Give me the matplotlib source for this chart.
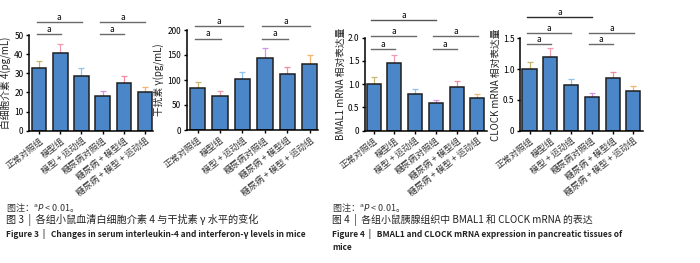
import numpy as np
import matplotlib
matplotlib.use("Agg")
from matplotlib import pyplot as plt

plt.rcParams['font.family'] = ['Noto Sans CJK SC', 'DejaVu Sans']
plt.rcParams['mathtext.fontset'] = 'dejavusans'

groups = ["正常对照组", "模型组", "模型 + 运动组", "糖尿病对照组", "糖尿病 + 模型组", "糖尿病 + 模型 + 运动组"]
err_colors = ["#c9b66e", "#f29bb0", "#8fc4ee", "#d493e6", "#f28aa2", "#f2b56a"]

il4 = [32.5, 40.5, 28.5, 18.0, 25.0, 20.0]
il4_err = [4.0, 5.0, 4.0, 3.0, 3.5, 2.8]
ifn = [85, 68, 102, 145, 112, 132]
ifn_err = [12, 10, 14, 19, 15, 18]
bmal1 = [1.0, 1.45, 0.80, 0.60, 0.95, 0.70]
bmal1_err = [0.15, 0.18, 0.09, 0.07, 0.12, 0.08]
clock = [1.0, 1.20, 0.75, 0.55, 0.85, 0.65]
clock_err = [0.12, 0.15, 0.09, 0.07, 0.10, 0.08]

W, H = 700, 263
fig = plt.figure(figsize=(7, 2.63), dpi=100)


def make_ax(left, right, top, bottom):
    return fig.add_axes([left / W, 1 - bottom / H, (right - left) / W, (bottom - top) / H])


def panel(ax, vals, errs, yticks, yticklabels, ylabel, xlim, brackets):
    x = np.arange(len(vals))
    ax.bar(x, vals, width=0.68, color="#4a86c8", edgecolor="#1e1e1e", linewidth=1.1, zorder=2)
    for i in range(len(vals)):
        ax.errorbar(x[i], vals[i], yerr=[[0], [errs[i]]], color=err_colors[i], capsize=2.5,
                    elinewidth=0.9, capthick=0.9, zorder=1)
    ax.set_ylim(0, yticks[-1])
    ax.set_xlim(*xlim)
    ax.set_yticks(yticks)
    ax.set_yticklabels(yticklabels)
    ax.set_xticks(x)
    ax.set_xticklabels(groups, rotation=38, ha="right", rotation_mode="anchor", fontsize=6.4, color="#333333")
    ax.tick_params(axis="y", labelsize=6, length=2.5, width=1, pad=1.5)
    ax.tick_params(axis="x", length=2.5, width=1, pad=1.5)
    for s in ["top", "right"]:
        ax.spines[s].set_visible(False)
    for s in ["left", "bottom"]:
        ax.spines[s].set_linewidth(1.1)
    ax.set_ylabel(ylabel, fontsize=7, labelpad=1.5, color="#222222")
    for a, b, yv, col in brackets:
        ax.plot([a - 0.12, b + 0.02], [yv, yv], color=col, lw=1.0, clip_on=False)
        ax.text((a + b) / 2 - 0.05, yv, "a", ha="center", va="bottom", fontsize=6, clip_on=False)


g = "#6a6a6a"
ax1 = make_ax(29, 153, 35, 130.7)
panel(ax1, il4, il4_err, [0, 10, 20, 30, 40, 50], ["0", "10", "20", "30", "40", "50"],
      "白细胞介素 4(pg/mL)", (-0.48, 5.38),
      [(0, 1, 50.5, g), (0, 2, 56.8, g), (3, 4, 50.5, g), (3, 5, 56.8, g)])

ax2 = make_ax(186.7, 318, 30, 130)
panel(ax2, ifn, ifn_err, [0, 50, 100, 150, 200], ["0", "50", "100", "150", "200"],
      "干扰素 γ(pg/mL)", (-0.49, 5.37),
      [(0, 1, 183, g), (0, 2, 209, g), (3, 4, 183, g), (3, 5, 209, g)])

ax3 = make_ax(365, 486.7, 37.7, 130.7)
panel(ax3, bmal1, bmal1_err, [0, 0.5, 1.0, 1.5, 2.0], ["0", "0.5", "1.0", "1.5", "2.0"],
      "BMAL1 mRNA 相对表达量", (-0.42, 5.45),
      [(0, 1, 1.76, g), (0, 2, 2.04, g), (0, 3, 2.39, "#555555"), (3, 4, 1.76, g), (3, 5, 2.04, g)])

ax4 = make_ax(520, 643.3, 38.3, 130.7)
panel(ax4, clock, clock_err, [0, 0.5, 1.0, 1.5], ["0", "0.5", "1.0", "1.5"],
      "CLOCK mRNA 相对表达量", (-0.46, 5.48),
      [(0, 1, 1.40, g), (0, 2, 1.59, g), (0, 3, 1.84, "#2a2a2a"), (3, 4, 1.40, g), (3, 5, 1.59, g)])

# captions
note = "图注：$^{\\mathrm{a}}\\mathit{P}$ < 0.01。"
fig.text(6 / W, 1 - 207 / H, note, fontsize=6.5, va="center", color="#333333")
fig.text(6 / W, 1 - 219.5 / H, "图 3  |  各组小鼠血清白细胞介素 4 与干扰素 γ 水平的变化",
         fontsize=7.3, va="center", color="#222222")
fig.text(6 / W, 1 - 234 / H, "Figure 3  |   Changes in serum interleukin-4 and interferon-γ levels in mice",
         fontsize=6.0, va="center", fontweight="bold", color="#222222")
fig.text(332 / W, 1 - 207 / H, note, fontsize=6.5, va="center", color="#333333")
fig.text(332 / W, 1 - 219.5 / H, "图 4  |  各组小鼠胰腺组织中 BMAL1 和 CLOCK mRNA 的表达",
         fontsize=7.1, va="center", color="#222222")
fig.text(332 / W, 1 - 234 / H, "Figure 4  |   BMAL1 and CLOCK mRNA expression in pancreatic tissues of",
         fontsize=6.0, va="center", fontweight="bold", color="#222222")
fig.text(332 / W, 1 - 247 / H, "mice", fontsize=6.0, va="center", fontweight="bold", color="#222222")

fig.savefig("out.png", dpi=100)
